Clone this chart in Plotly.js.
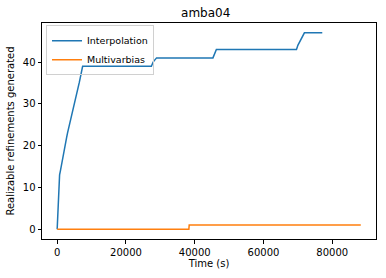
<!DOCTYPE html>
<html>
<head>
<meta charset="utf-8">
<script src="https://cdn.plot.ly/plotly-3.0.1.min.js"></script>
<style>html,body{margin:0;padding:0;background:#fff;}#chart{width:386px;height:278px;}</style>
</head>
<body>
<div id="chart"></div>
<script>
// Interpolation: time (s) vs realizable refinements generated
const interpTime = [0, 60, 110, 160, 210, 260, 300, 350, 400, 450, 500, 540, 580, 700, 950, 1150, 1350, 1550, 1750, 1950, 2200, 2450, 2750, 3000, 3300, 3550, 3800, 4100, 4350, 4650, 4950, 5300, 5600, 5900, 6150, 6400, 6650, 6850, 7200, 7400, 27400, 27900, 28900, 45300, 46300, 69600, 70000, 70600, 71200, 71900, 77100];
const interpCount = [0, 1, 2, 3, 4, 5, 6, 7, 8, 9, 10, 11, 12, 13, 14, 15, 16, 17, 18, 19, 20, 21, 22, 23, 24, 25, 26, 27, 28, 29, 30, 31, 32, 33, 34, 35, 36, 37, 38, 39, 39, 40, 41, 41, 43, 43, 44, 45, 46, 47, 47];
// Multivarbias
const multiTime = [0, 38300, 38400, 88300];
const multiCount = [0, 0, 1, 1];

const xTicks = [0, 20000, 40000, 60000, 80000];
const yTicks = [0, 10, 20, 30, 40];

const font = {family: 'DejaVu Sans, sans-serif', size: 10, color: '#000'};

const traces = [
  {x: interpTime, y: interpCount, mode: 'lines', name: 'Interpolation',
   line: {color: '#1f77b4', width: 1.5}},
  {x: multiTime, y: multiCount, mode: 'lines', name: 'Multivarbias',
   line: {color: '#ff7f0e', width: 1.5}}
];

const axisCommon = {
  showgrid: false, zeroline: false, showline: true, mirror: true,
  linecolor: '#000', linewidth: 1, ticks: 'outside', ticklen: 3.5,
  tickwidth: 1, tickcolor: '#000', tickfont: font
};

const layout = {
  width: 386, height: 278,
  margin: {l: 42, r: 10, t: 23, b: 39},
  paper_bgcolor: '#fff', plot_bgcolor: '#fff',
  font: font,
  title: {text: 'amba04', font: {family: 'DejaVu Sans, sans-serif', size: 12, color: '#000'},
          x: 0.533, xanchor: 'center', y: 0.953, yanchor: 'middle'},
  xaxis: Object.assign({}, axisCommon, {
    range: [-4415, 92725], tickvals: xTicks, ticktext: xTicks.map(String),
    title: {text: 'Time (s)', font: font, standoff: 3}
  }),
  yaxis: Object.assign({}, axisCommon, {
    range: [-2.35, 49.35], tickvals: yTicks, ticktext: yTicks.map(String),
    title: {text: 'Realizable refinements generated', font: font, standoff: 6}
  }),
  showlegend: true,
  legend: {x: 0.012, y: 0.99, xanchor: 'left', yanchor: 'top',
           bgcolor: 'rgba(255,255,255,0)', bordercolor: '#d0d0d0', borderwidth: 1,
           font: {family: 'DejaVu Sans, sans-serif', size: 9.5, color: '#000'},
           itemwidth: 30, tracegroupgap: 0}
};

Plotly.newPlot('chart', traces, layout, {staticPlot: true, displayModeBar: false});
</script>
</body>
</html>
